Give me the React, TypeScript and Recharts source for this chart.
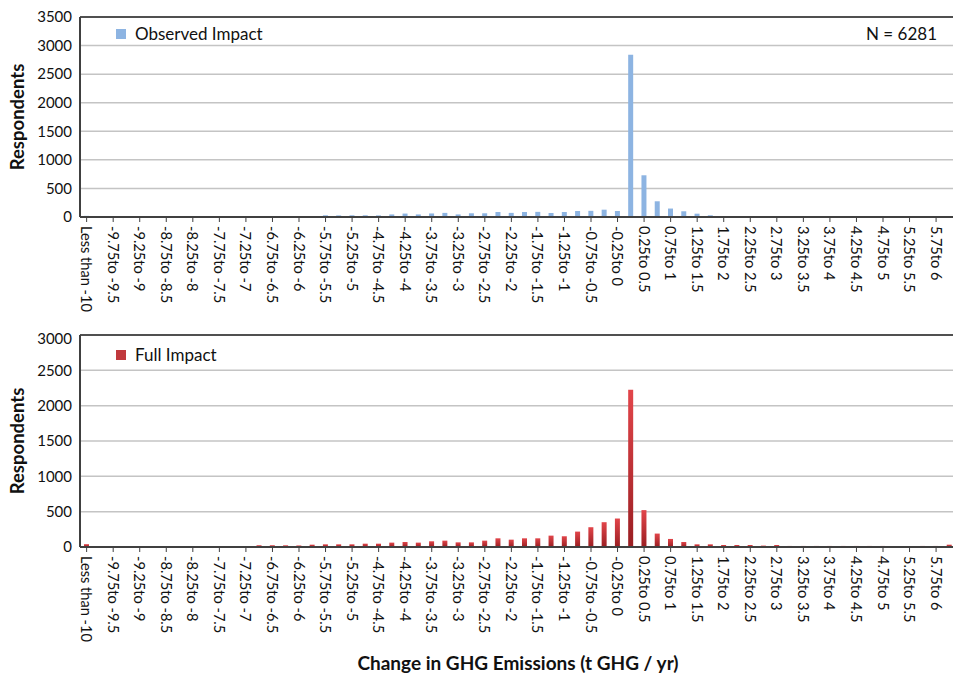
import { BarChart, Bar, XAxis, YAxis, CartesianGrid, ReferenceLine } from "recharts";

const categories = [
  "Less than -10",
  "-10to -9.75", "-9.75to -9.5", "-9.5to -9.25", "-9.25to -9",
  "-9to -8.75", "-8.75to -8.5", "-8.5to -8.25", "-8.25to -8",
  "-8to -7.75", "-7.75to -7.5", "-7.5to -7.25", "-7.25to -7",
  "-7to -6.75", "-6.75to -6.5", "-6.5to -6.25", "-6.25to -6",
  "-6to -5.75", "-5.75to -5.5", "-5.5to -5.25", "-5.25to -5",
  "-5to -4.75", "-4.75to -4.5", "-4.5to -4.25", "-4.25to -4",
  "-4to -3.75", "-3.75to -3.5", "-3.5to -3.25", "-3.25to -3",
  "-3to -2.75", "-2.75to -2.5", "-2.5to -2.25", "-2.25to -2",
  "-2to -1.75", "-1.75to -1.5", "-1.5to -1.25", "-1.25to -1",
  "-1to -0.75", "-0.75to -0.5", "-0.5to -0.25", "-0.25to 0",
  "0to 0.25", "0.25to 0.5", "0.5to 0.75", "0.75to 1",
  "1to 1.25", "1.25to 1.5", "1.5to 1.75", "1.75to 2",
  "2to 2.25", "2.25to 2.5", "2.5to 2.75", "2.75to 3",
  "3to 3.25", "3.25to 3.5", "3.5to 3.75", "3.75to 4",
  "4to 4.25", "4.25to 4.5", "4.5to 4.75", "4.75to 5",
  "5to 5.25", "5.25to 5.5", "5.5to 5.75", "5.75to 6",
  "More than 6",
];

const observed = [
  20,
  3, 2, 2, 3, 2, 3, 2, 4, 3, 5, 4, 6,
  12, 15, 14, 16, 18,
  30, 28, 30, 30, 28, 45, 60, 45, 62, 72, 45, 65, 65, 88, 72, 88, 90, 70, 88, 105, 108, 128, 105,
  2840,
  730, 275, 148, 100, 58, 30, 18, 15, 14, 12, 12, 6,
  3, 3, 2, 2, 2, 2, 2, 2, 2, 2, 2, 3,
];

const full = [
  40,
  10, 8, 8, 9, 8, 10, 9, 10, 11, 10, 12, 12,
  25, 25, 24, 22, 33,
  38, 38, 38, 47, 47, 62, 71, 62, 81, 90, 66, 66, 90, 123, 104, 123, 123, 161, 152, 218, 280, 351, 403,
  2226,
  522, 190, 114, 71, 38, 38, 28, 28, 28, 20, 28,
  15, 15, 15, 15, 15, 15, 15, 15, 10, 12, 15, 15, 33,
];

const topTicks = [0, 500, 1000, 1500, 2000, 2500, 3000, 3500];
const bottomTicks = [0, 500, 1000, 1500, 2000, 2500, 3000];

const data = categories.map((name, i) => ({ name, observed: observed[i], full: full[i] }));

const FONT = "Lato, 'Open Sans', sans-serif";

const XTick = (props: any) => {
  const { x, y, payload } = props;
  return (
    <text
      x={x}
      y={y}
      transform={`rotate(90, ${x}, ${y})`}
      textAnchor="start"
      dominantBaseline="central"
      fontSize={14.6}
      fontFamily={FONT}
      fill="#111"
    >
      {payload.value}
    </text>
  );
};

const legendBox = (color: string, top: number, text: string) => (
  <div style={{ position: "absolute", left: 116, top, display: "flex", alignItems: "center", fontFamily: FONT, fontSize: 17, color: "#111" }}>
    <span style={{ width: 10, height: 10, background: color, display: "inline-block", marginRight: 9 }} />
    {text}
  </div>
);

const yLabel = {
  value: "Respondents",
  angle: -90,
  position: "insideLeft" as const,
  offset: 17,
  style: { fontSize: 18.5, fontWeight: 700, fontFamily: FONT, fill: "#111", textAnchor: "middle" as const },
};

export default function App() {
  return (
    <div style={{ position: "absolute", left: 0, top: 0, width: 953, height: 675, overflow: "hidden", background: "#fff" }}>
      <div style={{ position: "absolute", left: 0, top: 0 }}>
        <BarChart width={960} height={330} data={data} margin={{ top: 17, right: 4, left: 0, bottom: 0 }} barSize={5}>
          <CartesianGrid vertical={false} stroke="#c4c4c4" strokeWidth={1.5} />
          <XAxis
            dataKey="name"
            interval={1}
            height={113}
            tick={<XTick />}
            tickSize={5}
            tickMargin={4}
            axisLine={{ stroke: "#404040", strokeWidth: 2 }}
            tickLine={{ stroke: "#404040" }}
          />
          <YAxis
            domain={[0, 3500]}
            ticks={topTicks}
            width={80}
            tickSize={0}
            tickMargin={8}
            tickLine={false}
            axisLine={{ stroke: "#404040", strokeWidth: 2 }}
            tick={{ fontSize: 15, fontFamily: FONT, fill: "#111" }}
            label={yLabel}
          />
          <ReferenceLine y={3500} stroke="#505050" strokeWidth={2} />
          <Bar dataKey="observed" fill="#8db4e2" isAnimationActive={false} />
        </BarChart>
      </div>
      {legendBox("#8db4e2", 23, "Observed Impact")}
      <div style={{ position: "absolute", right: 16, top: 23, fontFamily: FONT, fontSize: 17, color: "#111" }}>N = 6281</div>

      <div style={{ position: "absolute", left: 0, top: 330 }}>
        <BarChart width={960} height={345} data={data} margin={{ top: 5, right: 4, left: 0, bottom: 0 }} barSize={5}>
          <defs>
            <linearGradient id="redGrad" x1="0" y1="0" x2="0" y2="1">
              <stop offset="0%" stopColor="#e2454a" />
              <stop offset="100%" stopColor="#9a1e22" />
            </linearGradient>
          </defs>
          <CartesianGrid vertical={false} stroke="#c4c4c4" strokeWidth={1.5} />
          <XAxis
            dataKey="name"
            interval={1}
            height={128}
            tick={<XTick />}
            tickSize={5}
            tickMargin={4}
            axisLine={{ stroke: "#404040", strokeWidth: 2 }}
            tickLine={{ stroke: "#404040" }}
            label={{ value: "Change in GHG Emissions (t GHG / yr)", position: "insideBottom", offset: 5, style: { fontSize: 19, fontWeight: 700, fontFamily: FONT, fill: "#111" } }}
          />
          <YAxis
            domain={[0, 3000]}
            ticks={bottomTicks}
            width={80}
            tickSize={0}
            tickMargin={8}
            tickLine={false}
            axisLine={{ stroke: "#404040", strokeWidth: 2 }}
            tick={{ fontSize: 15, fontFamily: FONT, fill: "#111" }}
            label={yLabel}
          />
          <ReferenceLine y={3000} stroke="#505050" strokeWidth={2} />
          <Bar dataKey="full" fill="url(#redGrad)" isAnimationActive={false} />
        </BarChart>
      </div>
      {legendBox("#c0393d", 344, "Full Impact")}
    </div>
  );
}
